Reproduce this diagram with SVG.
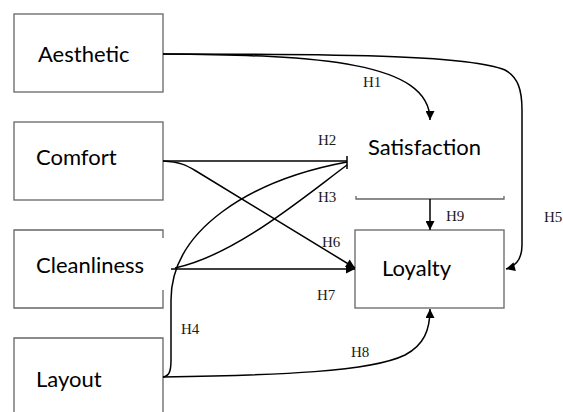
<svg xmlns="http://www.w3.org/2000/svg" width="563" height="412" viewBox="0 0 563 412">
<defs>
<style>
.box{fill:#fff;stroke:#666;stroke-width:1.3}
.node{font-family:Lato,"Open Sans",sans-serif;font-size:22px;fill:#000}
.lbl{font-family:"Liberation Serif","Times New Roman",serif;font-size:15px;fill:#1a1a1a}
.c{fill:none;stroke:#000;stroke-width:1.5}
</style>
<marker id="arr" viewBox="0 0 10 10" refX="10" refY="5" markerWidth="10" markerHeight="9" markerUnits="userSpaceOnUse" orient="auto">
<path d="M0,0 L10,5 L0,10 z" fill="#000"/>
</marker>
</defs>
<rect width="563" height="412" fill="#fff"/>
<g id="aesthetic">
<rect class="box" x="14" y="14" width="149" height="78"/>
<text class="node" x="38" y="62">Aesthetic</text>
</g>
<g id="comfort">
<rect class="box" x="14" y="122" width="149" height="78"/>
<text class="node" x="36" y="165">Comfort</text>
</g>
<g id="cleanliness">
<path class="box" d="M163,238 L163,230 L14,230 L14,308 L163,308 L163,290"/>
<text class="node" x="36" y="273">Cleanliness</text>
</g>
<g id="layout">
<path class="box" d="M14,415 L14,338 L163,338 L163,415"/>
<text class="node" x="36" y="387">Layout</text>
</g>
<g id="satisfaction">
<path class="box" d="M356,196 L356,199 L504,199 L504,196" fill="none"/>
<text class="node" x="368" y="155">Satisfaction</text>
</g>
<g id="loyalty">
<rect class="box" x="355" y="230" width="149" height="78"/>
<text class="node" x="382" y="276">Loyalty</text>
</g>
<g id="connectors">
<path class="c" d="M163,54 C320,55 430,62 430,120" marker-end="url(#arr)"/>
<path class="c" d="M163,54 C360,54 470,56 505,70 C518,77 522,90 522,110 L522,245 C522,258 517,266 506,269" marker-end="url(#arr)"/>
<path class="c" d="M163,161 L347,161"/>
<path class="c" d="M347,156 L347,169"/>
<path class="c" d="M163,161 C180,162 186,165 196,171 L355,268" marker-end="url(#arr)"/>
<path class="c" d="M171,269 L355,269" marker-end="url(#arr)"/>
<path class="c" d="M175,268 C235,255 300,200 347,165"/>
<path class="c" d="M163,377 C169,376 171,372 171,360 L171,300 C171,230 250,180 347,162"/>
<path class="c" d="M163,377 C280,375 370,372 405,355 C424,345 430,330 430,309" marker-end="url(#arr)"/>
<path class="c" d="M430,199 L430,230" marker-end="url(#arr)"/>
</g>
<g id="labels">
<text class="lbl" x="363" y="87">H1</text>
<text class="lbl" x="318" y="145">H2</text>
<text class="lbl" x="318" y="202">H3</text>
<text class="lbl" x="181" y="334">H4</text>
<text class="lbl" x="544" y="222">H5</text>
<text class="lbl" x="322" y="247">H6</text>
<text class="lbl" x="317" y="300">H7</text>
<text class="lbl" x="351" y="357">H8</text>
<text class="lbl" x="446" y="221">H9</text>
</g>
</svg>
